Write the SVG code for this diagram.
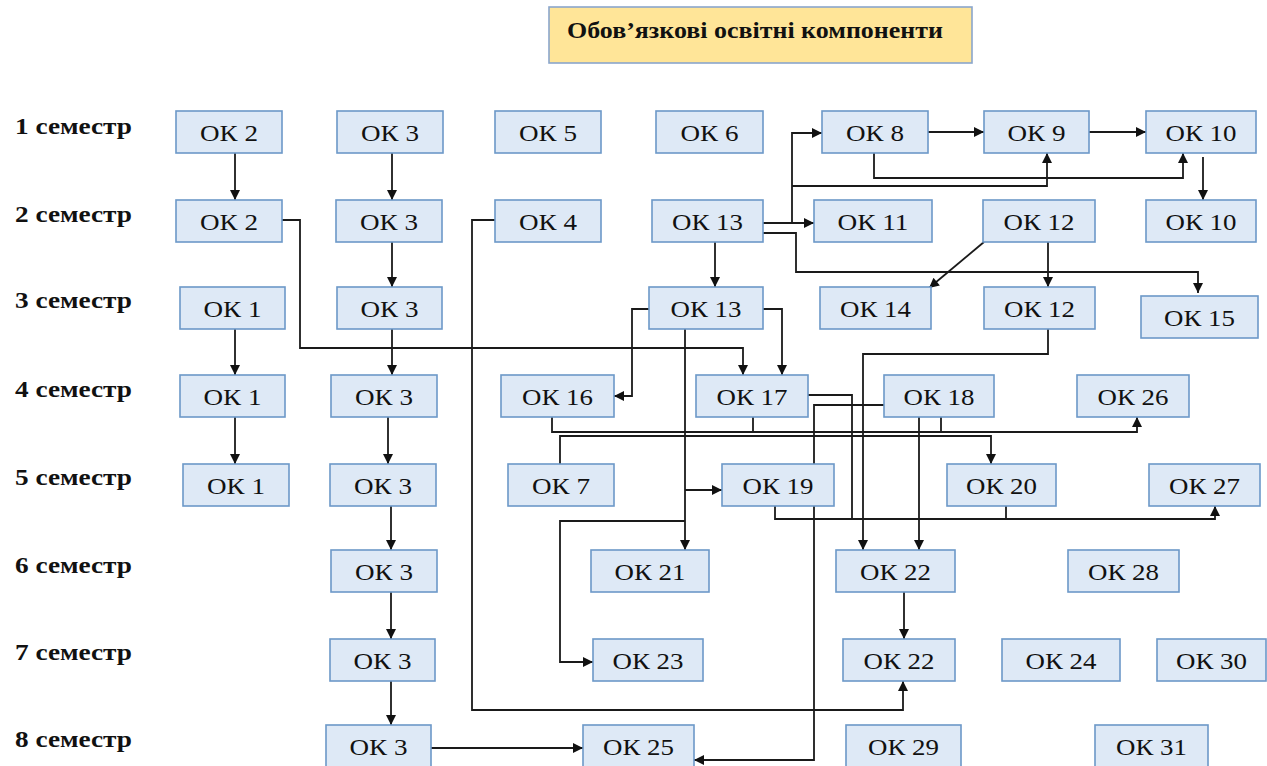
<svg xmlns="http://www.w3.org/2000/svg" width="1267" height="766" viewBox="0 0 1267 766">
<style>
.n rect{fill:#dee9f6;stroke:#6c98c8;stroke-width:1.6}
.n text{font-family:"Liberation Serif","Times New Roman",serif;font-size:23.5px;fill:#111;text-anchor:middle}
.sem{font-family:"Liberation Serif","Times New Roman",serif;font-size:22.5px;font-weight:bold;fill:#111}
.c path{fill:none;stroke:#1a1a1a;stroke-width:1.8}
.a{marker-end:url(#ah)}
</style>
<defs>
<marker id="ah" viewBox="0 0 10 10" refX="10" refY="5" markerWidth="11" markerHeight="10" orient="auto" markerUnits="userSpaceOnUse"><path d="M0,0 L10,5 L0,10 z" fill="#111"/></marker>
</defs>
<rect width="1267" height="766" fill="#fff"/>
<g id="title">
<rect x="549" y="7" width="423" height="56" fill="#ffe598" stroke="#8aa6cc" stroke-width="1.6"/>
<text x="567" y="38" font-family="Liberation Serif, serif" font-size="23.5" font-weight="bold" fill="#111" textLength="376" lengthAdjust="spacingAndGlyphs">Обов’язкові освітні компоненти</text>
</g>
<g id="semesters">
<text class="sem" x="15" y="134" textLength="117" lengthAdjust="spacingAndGlyphs">1 семестр</text>
<text class="sem" x="15" y="222" textLength="117" lengthAdjust="spacingAndGlyphs">2 семестр</text>
<text class="sem" x="15" y="308" textLength="117" lengthAdjust="spacingAndGlyphs">3 семестр</text>
<text class="sem" x="15" y="397" textLength="117" lengthAdjust="spacingAndGlyphs">4 семестр</text>
<text class="sem" x="15" y="485" textLength="117" lengthAdjust="spacingAndGlyphs">5 семестр</text>
<text class="sem" x="15" y="573" textLength="117" lengthAdjust="spacingAndGlyphs">6 семестр</text>
<text class="sem" x="15" y="660" textLength="117" lengthAdjust="spacingAndGlyphs">7 семестр</text>
<text class="sem" x="15" y="747" textLength="117" lengthAdjust="spacingAndGlyphs">8 семестр</text>
</g>
<g id="connectors" class="c">
<path class="a" d="M235,153 V200"/>
<path class="a" d="M392,153 V200"/>
<path class="a" d="M282,220 H300 V348 H743 V375"/>
<path class="a" d="M495,220 H472 V710 H903 V681"/>
<path class="a" d="M392,242 V287"/>
<path class="a" d="M392,329 V375"/>
<path class="a" d="M388,417 V464"/>
<path class="a" d="M391,506 V550"/>
<path class="a" d="M391,592 V639"/>
<path class="a" d="M391,681 V725"/>
<path class="a" d="M431,748 H583"/>
<path class="a" d="M235,329 V375"/>
<path class="a" d="M235,417 V464"/>
<path class="a" d="M763,223 H814"/>
<path class="a" d="M792,223 V133 H822"/>
<path class="a" d="M792,186 H1047 V153"/>
<path class="a" d="M928,132 H984"/>
<path class="a" d="M1089,132 H1146"/>
<path class="a" d="M874,153 V178 H1183 V153"/>
<path class="a" d="M1203,157 V200"/>
<path class="a" d="M763,233 H796 V272 H1198 V293"/>
<path class="a" d="M715,242 V287"/>
<path class="a" d="M984,242 L929,288"/>
<path class="a" d="M1048,242 V287"/>
<path class="a" d="M1048,329 V354 H863 V550"/>
<path class="a" d="M649,309 H632 V396 H614"/>
<path class="a" d="M763,309 H782 V375"/>
<path class="a" d="M685,329 V550"/>
<path class="a" d="M685,490 H722"/>
<path class="a" d="M685,521 H560 V662 H593"/>
<path class="a" d="M552,417 V432 H1137 V417"/>
<path class="a" d="M560,464 V436 H991 V464"/>
<path d="M753,417 V432"/>
<path d="M941,417 V432"/>
<path d="M808,395 H852 V519"/>
<path class="a" d="M884,405 H814 V760 H694"/>
<path class="a" d="M919,417 V550"/>
<path class="a" d="M775,506 V519 H1215 V506"/>
<path d="M1006,506 V519"/>
<path class="a" d="M904,592 V639"/>
</g>
<g id="ok2-s1" class="n"><rect x="176" y="111" width="106" height="42"/><text x="229" y="141" textLength="58" lengthAdjust="spacingAndGlyphs">ОК 2</text></g>
<g id="ok3-s1" class="n"><rect x="337" y="111" width="106" height="42"/><text x="390" y="141" textLength="58" lengthAdjust="spacingAndGlyphs">ОК 3</text></g>
<g id="ok5-s1" class="n"><rect x="495" y="111" width="106" height="42"/><text x="548" y="141" textLength="58" lengthAdjust="spacingAndGlyphs">ОК 5</text></g>
<g id="ok6-s1" class="n"><rect x="656" y="111" width="107" height="42"/><text x="709.5" y="141" textLength="58" lengthAdjust="spacingAndGlyphs">ОК 6</text></g>
<g id="ok8-s1" class="n"><rect x="822" y="111" width="106" height="42"/><text x="875" y="141" textLength="58" lengthAdjust="spacingAndGlyphs">ОК 8</text></g>
<g id="ok9-s1" class="n"><rect x="984" y="111" width="105" height="42"/><text x="1036.5" y="141" textLength="58" lengthAdjust="spacingAndGlyphs">ОК 9</text></g>
<g id="ok10-s1" class="n"><rect x="1146" y="111" width="110" height="42"/><text x="1201" y="141" textLength="71" lengthAdjust="spacingAndGlyphs">ОК 10</text></g>
<g id="ok2-s2" class="n"><rect x="176" y="200" width="106" height="42"/><text x="229" y="230" textLength="58" lengthAdjust="spacingAndGlyphs">ОК 2</text></g>
<g id="ok3-s2" class="n"><rect x="336" y="200" width="106" height="42"/><text x="389" y="230" textLength="58" lengthAdjust="spacingAndGlyphs">ОК 3</text></g>
<g id="ok4-s2" class="n"><rect x="495" y="200" width="106" height="42"/><text x="548" y="230" textLength="58" lengthAdjust="spacingAndGlyphs">ОК 4</text></g>
<g id="ok13-s2" class="n"><rect x="652" y="200" width="111" height="42"/><text x="707.5" y="230" textLength="71" lengthAdjust="spacingAndGlyphs">ОК 13</text></g>
<g id="ok11-s2" class="n"><rect x="814" y="200" width="118" height="42"/><text x="873" y="230" textLength="71" lengthAdjust="spacingAndGlyphs">ОК 11</text></g>
<g id="ok12-s2" class="n"><rect x="983" y="200" width="112" height="42"/><text x="1039" y="230" textLength="71" lengthAdjust="spacingAndGlyphs">ОК 12</text></g>
<g id="ok10-s2" class="n"><rect x="1146" y="200" width="110" height="42"/><text x="1201" y="230" textLength="71" lengthAdjust="spacingAndGlyphs">ОК 10</text></g>
<g id="ok1-s3" class="n"><rect x="180" y="287" width="105" height="42"/><text x="232.5" y="317" textLength="58" lengthAdjust="spacingAndGlyphs">ОК 1</text></g>
<g id="ok3-s3" class="n"><rect x="337" y="287" width="105" height="42"/><text x="389.5" y="317" textLength="58" lengthAdjust="spacingAndGlyphs">ОК 3</text></g>
<g id="ok13-s3" class="n"><rect x="649" y="287" width="114" height="42"/><text x="706" y="317" textLength="71" lengthAdjust="spacingAndGlyphs">ОК 13</text></g>
<g id="ok14-s3" class="n"><rect x="820" y="287" width="111" height="42"/><text x="875.5" y="317" textLength="71" lengthAdjust="spacingAndGlyphs">ОК 14</text></g>
<g id="ok12-s3" class="n"><rect x="984" y="287" width="111" height="42"/><text x="1039.5" y="317" textLength="71" lengthAdjust="spacingAndGlyphs">ОК 12</text></g>
<g id="ok15-s3" class="n"><rect x="1141" y="296" width="117" height="42"/><text x="1199.5" y="326" textLength="71" lengthAdjust="spacingAndGlyphs">ОК 15</text></g>
<g id="ok1-s4" class="n"><rect x="180" y="375" width="105" height="42"/><text x="232.5" y="405" textLength="58" lengthAdjust="spacingAndGlyphs">ОК 1</text></g>
<g id="ok3-s4" class="n"><rect x="331" y="375" width="106" height="42"/><text x="384" y="405" textLength="58" lengthAdjust="spacingAndGlyphs">ОК 3</text></g>
<g id="ok16-s4" class="n"><rect x="501" y="375" width="113" height="42"/><text x="557.5" y="405" textLength="71" lengthAdjust="spacingAndGlyphs">ОК 16</text></g>
<g id="ok17-s4" class="n"><rect x="696" y="375" width="112" height="42"/><text x="752" y="405" textLength="71" lengthAdjust="spacingAndGlyphs">ОК 17</text></g>
<g id="ok18-s4" class="n"><rect x="884" y="375" width="110" height="42"/><text x="939" y="405" textLength="71" lengthAdjust="spacingAndGlyphs">ОК 18</text></g>
<g id="ok26-s4" class="n"><rect x="1077" y="375" width="112" height="42"/><text x="1133" y="405" textLength="71" lengthAdjust="spacingAndGlyphs">ОК 26</text></g>
<g id="ok1-s5" class="n"><rect x="183" y="464" width="106" height="42"/><text x="236" y="494" textLength="58" lengthAdjust="spacingAndGlyphs">ОК 1</text></g>
<g id="ok3-s5" class="n"><rect x="330" y="464" width="106" height="42"/><text x="383" y="494" textLength="58" lengthAdjust="spacingAndGlyphs">ОК 3</text></g>
<g id="ok7-s5" class="n"><rect x="508" y="464" width="106" height="42"/><text x="561" y="494" textLength="58" lengthAdjust="spacingAndGlyphs">ОК 7</text></g>
<g id="ok19-s5" class="n"><rect x="722" y="464" width="112" height="42"/><text x="778" y="494" textLength="71" lengthAdjust="spacingAndGlyphs">ОК 19</text></g>
<g id="ok20-s5" class="n"><rect x="947" y="464" width="109" height="42"/><text x="1001.5" y="494" textLength="71" lengthAdjust="spacingAndGlyphs">ОК 20</text></g>
<g id="ok27-s5" class="n"><rect x="1149" y="464" width="111" height="42"/><text x="1204.5" y="494" textLength="71" lengthAdjust="spacingAndGlyphs">ОК 27</text></g>
<g id="ok3-s6" class="n"><rect x="331" y="550" width="106" height="42"/><text x="384" y="580" textLength="58" lengthAdjust="spacingAndGlyphs">ОК 3</text></g>
<g id="ok21-s6" class="n"><rect x="591" y="550" width="118" height="42"/><text x="650" y="580" textLength="71" lengthAdjust="spacingAndGlyphs">ОК 21</text></g>
<g id="ok22-s6" class="n"><rect x="836" y="550" width="119" height="42"/><text x="895.5" y="580" textLength="71" lengthAdjust="spacingAndGlyphs">ОК 22</text></g>
<g id="ok28-s6" class="n"><rect x="1068" y="550" width="111" height="42"/><text x="1123.5" y="580" textLength="71" lengthAdjust="spacingAndGlyphs">ОК 28</text></g>
<g id="ok3-s7" class="n"><rect x="330" y="639" width="105" height="42"/><text x="382.5" y="669" textLength="58" lengthAdjust="spacingAndGlyphs">ОК 3</text></g>
<g id="ok23-s7" class="n"><rect x="593" y="639" width="110" height="42"/><text x="648" y="669" textLength="71" lengthAdjust="spacingAndGlyphs">ОК 23</text></g>
<g id="ok22-s7" class="n"><rect x="843" y="639" width="112" height="42"/><text x="899" y="669" textLength="71" lengthAdjust="spacingAndGlyphs">ОК 22</text></g>
<g id="ok24-s7" class="n"><rect x="1002" y="639" width="118" height="42"/><text x="1061" y="669" textLength="71" lengthAdjust="spacingAndGlyphs">ОК 24</text></g>
<g id="ok30-s7" class="n"><rect x="1157" y="639" width="109" height="42"/><text x="1211.5" y="669" textLength="71" lengthAdjust="spacingAndGlyphs">ОК 30</text></g>
<g id="ok3-s8" class="n"><rect x="326" y="725" width="105" height="44"/><text x="378.5" y="755" textLength="58" lengthAdjust="spacingAndGlyphs">ОК 3</text></g>
<g id="ok25-s8" class="n"><rect x="583" y="725" width="111" height="44"/><text x="638.5" y="755" textLength="71" lengthAdjust="spacingAndGlyphs">ОК 25</text></g>
<g id="ok29-s8" class="n"><rect x="846" y="725" width="115" height="44"/><text x="903.5" y="755" textLength="71" lengthAdjust="spacingAndGlyphs">ОК 29</text></g>
<g id="ok31-s8" class="n"><rect x="1095" y="725" width="113" height="44"/><text x="1151.5" y="755" textLength="71" lengthAdjust="spacingAndGlyphs">ОК 31</text></g>
</svg>
